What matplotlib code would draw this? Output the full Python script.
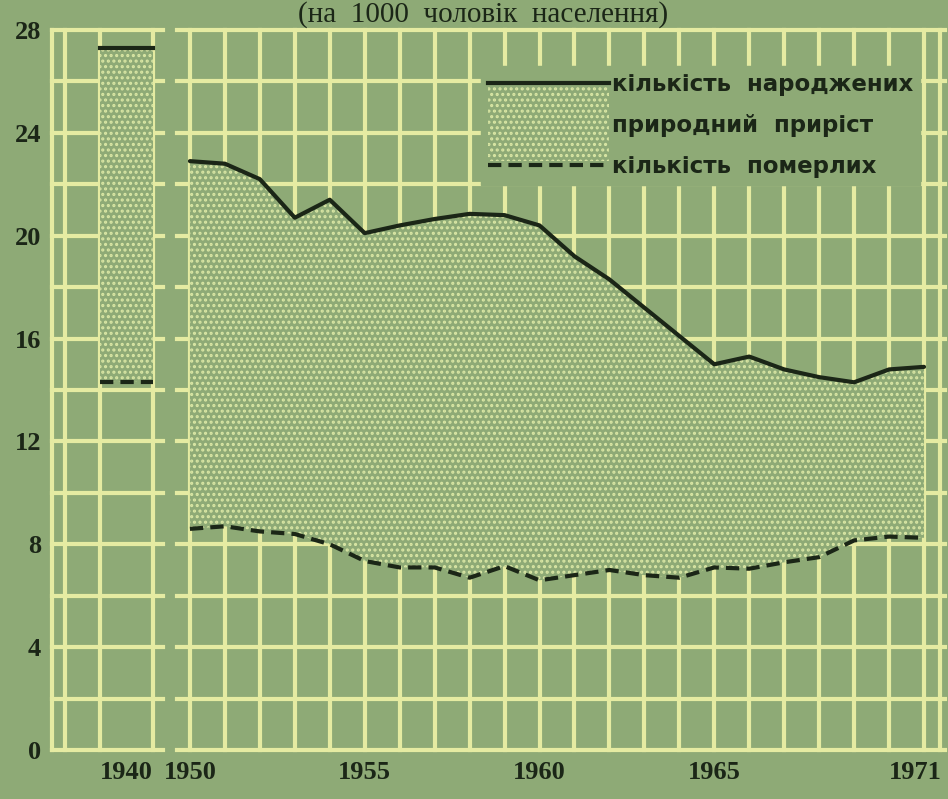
import matplotlib.pyplot as plt
from matplotlib.lines import Line2D
from matplotlib.patches import Patch, Rectangle
from matplotlib.legend_handler import HandlerPatch
from matplotlib.transforms import ScaledTranslation

# colours of the scanned page
BG = '#8eaa76'
GRID = '#e5eba2'
DOT = '#d9e6a4'
INK = '#1b2617'

# data (per 1000 of population)
year_1940 = 1940
births_1940 = 27.3
deaths_1940 = 14.3

years = list(range(1950, 1972))
births = [22.9, 22.8, 22.2, 20.7, 21.4, 20.1, 20.4, 20.65, 20.85, 20.8, 20.4,
          19.2, 18.3, 17.2, 16.1, 15.0, 15.3, 14.8, 14.5, 14.3, 14.8, 14.9]
deaths = [8.6, 8.7, 8.5, 8.4, 8.0, 7.35, 7.1, 7.1, 6.7, 7.15, 6.6,
          6.8, 7.0, 6.8, 6.7, 7.1, 7.05, 7.3, 7.5, 8.15, 8.3, 8.25]

y_ticks = [0, 4, 8, 12, 16, 20, 24, 28]
x_ticks = [1950, 1955, 1960, 1965, 1971]

legend_labels = ['кількість  народжених', 'природний  приріст', 'кількість  померлих']
title = '(на  1000  чоловік  населення)'

plt.rcParams['hatch.linewidth'] = 1.5
tick_font = dict(family='Liberation Serif', weight='bold', size=19, color=INK)

fig = plt.figure(figsize=(9.48, 7.99), dpi=100, facecolor=BG)
W, H = 948, 799
bottom, top = 750, 30  # pixel rows of 0 and 28
ax_l = fig.add_axes([52 / W, (H - bottom) / H, 111 / W, (bottom - top) / H])
ax_r = fig.add_axes([177 / W, (H - bottom) / H, 768 / W, (bottom - top) / H])

half = 0.75  # half width of the 1940 column
ax_l.set_xlim(year_1940 - half - 1.38, year_1940 + half + 0.29)
ax_r.set_xlim(1949.63, 1971.6)

for ax in (ax_l, ax_r):
    ax.set_facecolor(BG)
    ax.set_ylim(0, 28)
    for s in ax.spines.values():
        s.set_visible(False)
    ax.tick_params(length=0, pad=8)
    for y in range(0, 29, 2):
        ax.axhline(y, color=GRID, lw=3, zorder=1, clip_on=False)

# vertical grid
x0 = ax_l.get_xlim()[0]
for x in [x0, x0 + 0.37, year_1940 - half, year_1940 + half]:
    ax_l.axvline(x, color=GRID, lw=3, zorder=1, clip_on=False)
for x in years + [1971.45]:
    ax_r.axvline(x, color=GRID, lw=3, zorder=1, clip_on=False)

# 1940 column
xs_1940 = [year_1940 - half, year_1940 + half]
ax_l.fill_between(xs_1940, [deaths_1940] * 2, [births_1940] * 2,
                  facecolor=BG, edgecolor=DOT, linewidth=0, hatch='...', zorder=2)
ax_l.plot(xs_1940, [births_1940] * 2, color=INK, lw=3, zorder=3)
ax_l.plot(xs_1940, [deaths_1940] * 2, color=INK, lw=3, ls=(0, (3.2, 1.7)), zorder=3)

# 1950-1971
ax_r.fill_between(years, deaths, births, facecolor=BG, edgecolor=DOT,
                  linewidth=0, hatch='...', zorder=2)
ax_r.plot(years, births, color=INK, lw=3, zorder=3, solid_capstyle='round')
ax_r.plot(years, deaths, color=INK, lw=3, ls=(0, (3.2, 1.7)), zorder=3)

ax_l.set_yticks(y_ticks)
ax_l.set_yticklabels([str(v) for v in y_ticks], **tick_font)
ax_l.set_xticks([year_1940])
ax_l.set_xticklabels([str(year_1940)], **tick_font)
ax_r.set_yticks([])
ax_r.set_xticks(x_ticks)
ax_r.set_xticklabels([str(v) for v in x_ticks], **tick_font)
# the last year label sits at the very edge of the page
last = ax_r.get_xticklabels()[-1]
last.set_transform(last.get_transform() + ScaledTranslation(-6 / 72, 0, fig.dpi_scale_trans))


def tall_patch(legend, orig_handle, xdescent, ydescent, width, height, fontsize):
    return Rectangle((-xdescent, -ydescent + height / 2 - 1.62 * fontsize),
                     width, 3.24 * fontsize)


handles = [Line2D([], [], color=INK, lw=3),
           Patch(facecolor=BG, edgecolor=DOT, linewidth=0, hatch='...'),
           Line2D([], [], color=INK, lw=3, ls=(0, (3.2, 1.7)))]
leg = ax_r.legend(handles, legend_labels, loc='upper right',
                  bbox_to_anchor=(0.982, 0.966), frameon=True, facecolor=BG,
                  edgecolor=BG, framealpha=1, fancybox=False,
                  handlelength=5.3, handletextpad=0.1, labelspacing=0.8,
                  borderpad=0.3, prop=dict(family='DejaVu Sans', weight='bold', size=16.5),
                  handler_map={Patch: HandlerPatch(patch_func=tall_patch)})
leg.set_zorder(5)
for t in leg.get_texts():
    t.set_color(INK)

fig.text(0.51, 1 - 22 / H, title, ha='center', va='baseline',
         family='Liberation Serif', size=21, color=INK)

fig.savefig('out.png', dpi=100, facecolor=BG)
